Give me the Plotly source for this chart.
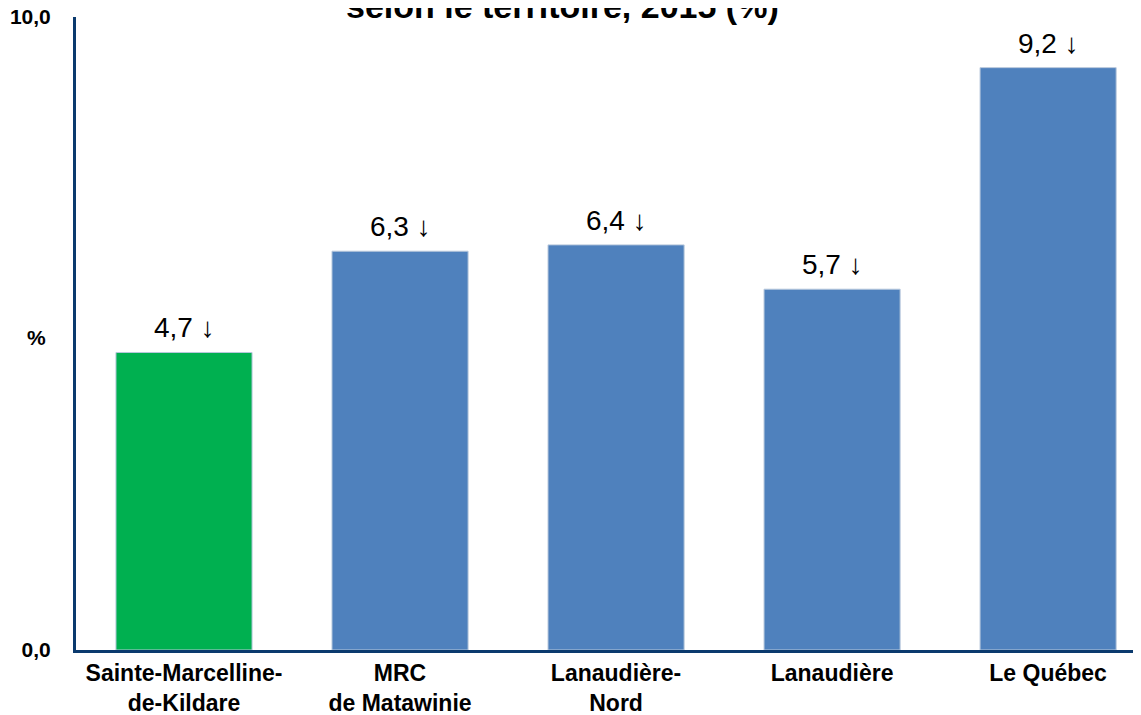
import plotly.graph_objects as go

# Data
territoires = ["Sainte-Marcelline-<br>de-Kildare", "MRC<br>de Matawinie", "Lanaudière-<br>Nord",
               "Lanaudière", "Le Québec"]
valeurs = [4.7, 6.3, 6.4, 5.7, 9.2]
couleurs = ["#00B050", "#4F81BD", "#4F81BD", "#4F81BD", "#4F81BD"]
y_ticks = [0, 10]
y_tick_labels = ["0,0", "10,0"]

FONT = "Arial, Liberation Sans, sans-serif"
AXIS_COLOR = "#0B3A6E"

fig = go.Figure()

fig.add_trace(go.Bar(
    x=territoires,
    y=valeurs,
    marker=dict(color=couleurs, line=dict(color="#B8C8DC", width=1)),
    width=0.63,
    hoverinfo="x+y",
))

# data labels above each bar
for t, v in zip(territoires, valeurs):
    fig.add_annotation(
        x=t, y=v, xref="x", yref="y",
        text=f"{v:.1f}".replace(".", ",") + " ↓",
        showarrow=False, yanchor="bottom", yshift=7,
        font=dict(family=FONT, size=28, color="#000000"),
    )

# y axis title, horizontal
fig.add_annotation(
    x=-0.048, y=4.93, xref="paper", yref="y",
    text="<b>%</b>", showarrow=False,
    font=dict(family=FONT, size=21, color="#000000"),
)

# title (partly cut off at the top, as in the source)
fig.add_annotation(
    x=0.457, y=1, xref="paper", yref="paper",
    text="<b>selon le territoire, 2015 (%)</b>", showarrow=False,
    yanchor="bottom", yshift=-10,
    font=dict(family=FONT, size=34, color="#000000"),
)

# the page adds an 8px body margin, so the figure is a bit smaller and margins shifted
fig.update_layout(
    width=1133, height=707,
    margin=dict(l=68, r=0, t=9, b=65),
    paper_bgcolor="white", plot_bgcolor="white",
    showlegend=False,
    font=dict(family=FONT, color="#000000"),
)

fig.update_xaxes(
    range=[-0.5, 4.43],
    showline=True, linecolor=AXIS_COLOR, linewidth=3,
    showgrid=False, ticks="", automargin=False,
    ticklabelstandoff=0,
    tickfont=dict(family=FONT, size=23, color="#000000", weight="bold"),
)

fig.update_yaxes(
    range=[0, 10],
    tickvals=y_ticks, ticktext=[f"<b>{s}</b>" for s in y_tick_labels],
    showline=True, linecolor=AXIS_COLOR, linewidth=3,
    showgrid=False, zeroline=False, ticks="", automargin=False,
    ticklabelstandoff=18, ticklabeloverflow="allow",
    tickfont=dict(family=FONT, size=21, color="#000000"),
)

fig.write_html("out.html")
